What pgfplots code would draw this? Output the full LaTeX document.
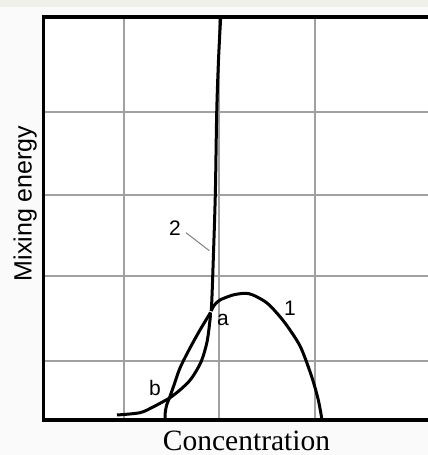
\documentclass[border=0pt]{standalone}
\usepackage{pgfplots}
\pgfplotsset{compat=1.18}
\usepackage{fontspec}
\setmainfont{Liberation Serif}
\newfontfamily\arial{Liberation Sans}
\definecolor{outerbg}{RGB}{250,250,250}
\definecolor{stripbg}{RGB}{240,240,235}
\definecolor{gridc}{RGB}{160,160,160}
\begin{document}
\begin{tikzpicture}
\pgfplotsset{set layers}
\begin{axis}[
  scale only axis,
  width=396.5pt, height=403pt,
  xmin=43.5, xmax=440, ymin=0, ymax=403,
  xtick={124,219,315}, ytick={59,144,225,308},
  xticklabels={}, yticklabels={},
  major tick length=0pt,
  grid=major,
  major grid style={draw=gridc, line width=1.3pt},
  axis line style={line width=3.4pt, black},
  clip=false,
]
\begin{pgfonlayer}{axis background}
  \fill[outerbg] (axis cs:0,-35) rectangle (axis cs:428,420);
  \fill[stripbg] (axis cs:0,413) rectangle (axis cs:428,420);
  \fill[white] (axis cs:43.5,0) rectangle (axis cs:440,403);
\end{pgfonlayer}
\coordinate (BL) at (axis cs:0,-35);
\coordinate (TR) at (axis cs:428,420);

% curve 2 (steep)
\addplot[black, line width=3pt, smooth] coordinates {
  (220.7,403) (218.5,360) (216.7,307) (215.3,225) (212.7,143.3) (211.7,117) (211.2,109)
};
% curve 1
\addplot[black, line width=3pt, smooth] coordinates {
  (211.2,109) (214,114.5) (220,120) (233,125) (245,126.7) (253,125) (267,117)
  (280,103.3) (290,90) (301,72) (311.7,43.3) (318.3,20) (322,0)
};
% lens upper-left branch
\addplot[black, line width=3pt, smooth] coordinates {
  (210.5,107.5) (207.5,102.5) (200,90) (190,72) (180,52) (173.5,33.5) (169.3,21.7)
};
% lens right branch
\addplot[black, line width=3pt, smooth] coordinates {
  (210.5,107.5) (210,100) (207,78) (201,58) (191,41) (180,30) (169.3,21.7)
};
% tail
\addplot[black, line width=3pt, smooth] coordinates {
  (117,5) (140,7.3) (153,13) (163,18.3) (169.3,21.7)
};
% short branch down from b
\addplot[black, line width=3pt, smooth] coordinates {
  (169.3,21.7) (166.7,15) (165.3,8) (165,0)
};
% leader for label 2
\addplot[gridc!80!black, line width=1pt] coordinates {(186,187.3) (209.3,169.3)};

\node[font=\arial\fontsize{21}{25}\selectfont] at (axis cs:175,192) {2};
\node[font=\arial\fontsize{21}{25}\selectfont] at (axis cs:290,112) {1};
\node[font=\arial\fontsize{21}{25}\selectfont] at (axis cs:223,100) {a};
\node[font=\arial\fontsize{21}{25}\selectfont] at (axis cs:155,32) {b};
\node[font=\fontsize{29.5}{34}\selectfont, anchor=base] at (axis cs:246.5,-30) {Concentration};
\node[font=\arial\fontsize{25}{30}\selectfont, anchor=base, rotate=90] at (axis cs:31.7,216.5) {Mixing energy};
\end{axis}
\pgfresetboundingbox
\path[use as bounding box] (BL) rectangle (TR);
\end{tikzpicture}
\end{document}
